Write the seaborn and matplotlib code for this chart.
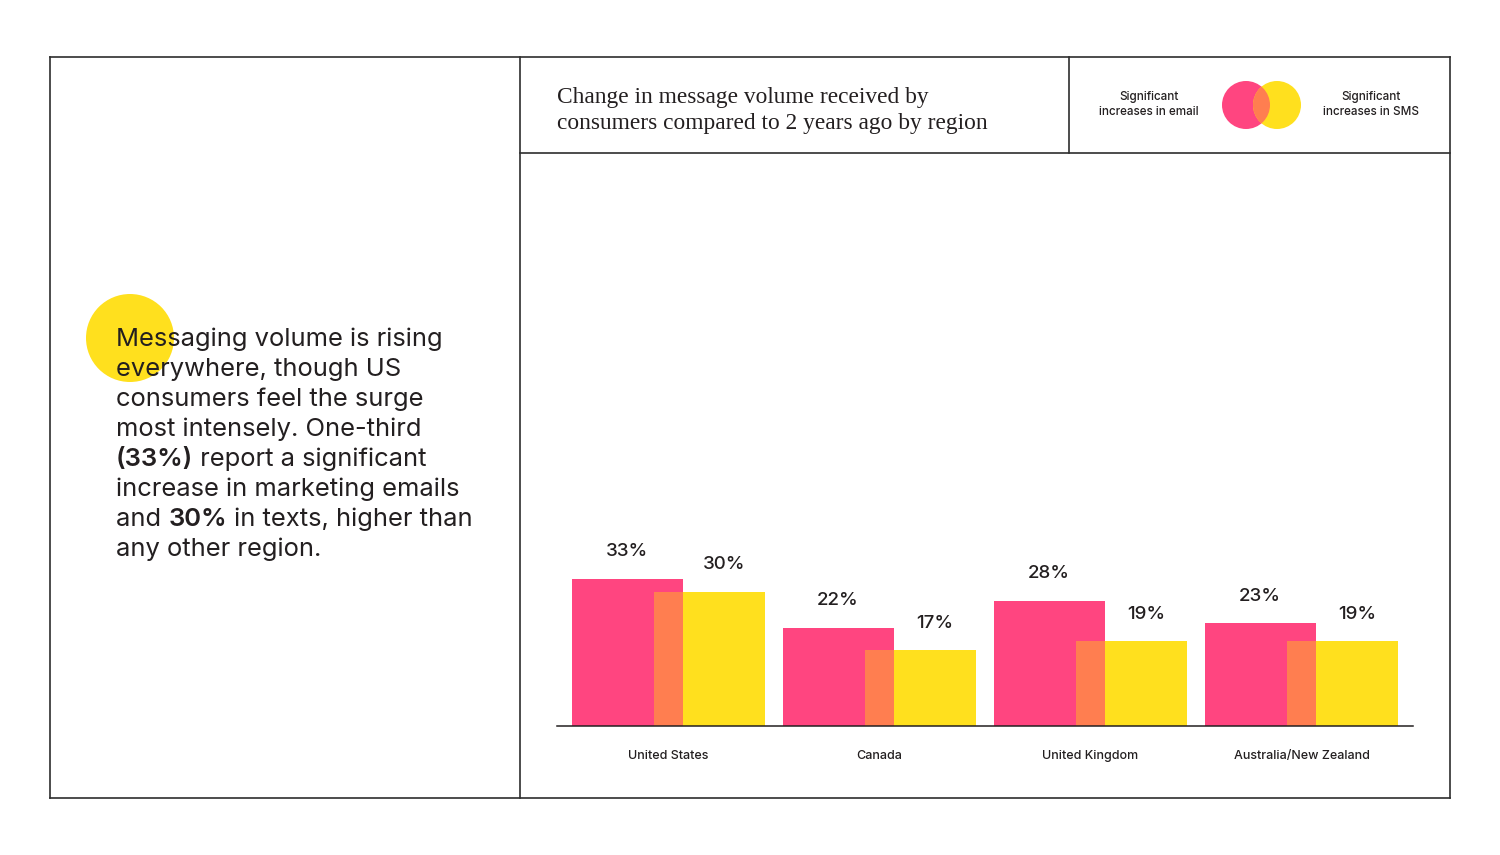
import pandas as pd
import seaborn as sns
import matplotlib.pyplot as plt
from matplotlib.patches import Circle

REGIOES = ['United States', 'Canada', 'United Kingdom', 'Australia/New Zealand']
EMAIL = [33, 22, 28, 23]   # Significant increases in email (%)
SMS = [30, 17, 19, 19]     # Significant increases in SMS (%)

TITULO = ['Change in message volume received by',
          'consumers compared to 2 years ago by region']
LEGENDA_EMAIL = 'Significant\nincreases in email'
LEGENDA_SMS = 'Significant\nincreases in SMS'

TEXTO_LADO = [
    [('Messaging volume is rising', False)],
    [('everywhere, though US', False)],
    [('consumers feel the surge', False)],
    [('most intensely. One-third', False)],
    [('(33%)', True), (' report a significant', False)],
    [('increase in marketing emails', False)],
    [('and ', False), ('30%', True), (' in texts, higher than', False)],
    [('any other region.', False)],
]

ROSA = '#FF4580'
AMARELO = '#FFE01E'
LARANJA = '#FF7E50'
TINTA = '#231F20'
MOLDURA = '#2E2E2E'

LARGURA = 0.526      # largura de cada barra (em unidades de categoria)
DESLOC = 0.196       # deslocamento de cada serie a partir do centro
LARG_SOBRE = LARGURA - 2 * DESLOC

sns.set_theme(style="white")
plt.rcParams['font.family'] = ['Inter', 'DejaVu Sans']

df = pd.DataFrame({'regiao': REGIOES, 'email': EMAIL, 'sms': SMS})
df['sobre'] = df[['email', 'sms']].min(axis=1)

fig = plt.figure(figsize=(15, 8.55), dpi=100)

# camada de fundo em pixels (moldura, titulo, legenda, texto)
bg = fig.add_axes([0, 0, 1, 1], zorder=0)
bg.set_xlim(0, 1500)
bg.set_ylim(855, 0)
bg.axis('off')

lw = 1.2
for (x0, y0, x1, y1) in [(50, 57, 1450, 57), (50, 798, 1450, 798),
                         (50, 57, 50, 798), (1450, 57, 1450, 798),
                         (520, 57, 520, 798), (520, 153, 1450, 153),
                         (1069, 57, 1069, 153)]:
    bg.plot([x0, x1], [y0, y1], color=MOLDURA, lw=lw, solid_capstyle='projecting')

for i, linha in enumerate(TITULO):
    bg.text(557, 97 + i * 27, linha, fontsize=16.8, color=TINTA, va='center',
            family=['Liberation Serif', 'DejaVu Serif'])

bg.text(1149, 104.5, LEGENDA_EMAIL, fontsize=8.4, color=TINTA, ha='center', va='center',
        linespacing=1.3, fontweight='medium')
bg.text(1371, 104.5, LEGENDA_SMS, fontsize=8.4, color=TINTA, ha='center', va='center',
        linespacing=1.3, fontweight='medium')

c_rosa = Circle((1246, 105), 24, color=ROSA, lw=0)
c_amar = Circle((1277, 105), 24, color=AMARELO, lw=0)
bg.add_patch(c_rosa)
bg.add_patch(c_amar)
c_sobre = Circle((1277, 105), 24, color=LARANJA, lw=0)
bg.add_patch(c_sobre)
c_sobre.set_clip_path(c_rosa)

# circulo amarelo atras do texto
bg.add_patch(Circle((130, 338), 44, color=AMARELO, lw=0, zorder=1))

y_base = 339
for i, linha in enumerate(TEXTO_LADO):
    anterior = None
    for trecho, negrito in linha:
        peso = 'semibold' if negrito else 'normal'
        if anterior is None:
            anterior = bg.text(116, y_base + i * 30, trecho, fontsize=18.4, color=TINTA,
                               va='center', ha='left', fontweight=peso, zorder=2)
        else:
            anterior = bg.annotate(trecho, xy=(1, 0), xycoords=anterior, va='bottom',
                                   ha='left', fontsize=18.4, color=TINTA,
                                   fontweight=peso, zorder=2)

# grafico de barras
ax = fig.add_axes([557 / 1500, 1 - 726 / 855, (1413 - 557) / 1500, (726 - 170) / 855],
                  zorder=1)
ax.patch.set_alpha(0)


def desenhar_serie(coluna, cor, largura, desloc):
    n_antes = len(ax.patches)
    sns.barplot(data=df, x='regiao', y=coluna, color=cor, width=largura,
                errorbar=None, saturation=1, linewidth=0, ax=ax)
    barras = ax.patches[n_antes:]
    for b in barras:
        b.set_x(b.get_x() + desloc)
    return barras


barras_email = desenhar_serie('email', ROSA, LARGURA, -DESLOC)
barras_sms = desenhar_serie('sms', AMARELO, LARGURA, DESLOC)
desenhar_serie('sobre', LARANJA, LARG_SOBRE, 0)

for b, v in zip(barras_email, EMAIL):
    ax.annotate(f'{v}%', xy=(b.get_x() + b.get_width() / 2, b.get_height()),
                xytext=(0, 27), textcoords='offset pixels', ha='center', va='center',
                fontsize=13.5, color=TINTA, fontweight='medium')
for b, v in zip(barras_sms, SMS):
    ax.annotate(f'{v}%', xy=(b.get_x() + b.get_width() / 2 + LARG_SOBRE / 2, b.get_height()),
                xytext=(0, 27), textcoords='offset pixels', ha='center', va='center',
                fontsize=13.5, color=TINTA, fontweight='medium')

ax.set_xlim(-0.528, 3.528)
ax.set_ylim(0, 124.4)
ax.set_xlabel('')
ax.set_ylabel('')
ax.set_yticks([])
sns.despine(ax=ax, left=True)
ax.spines['bottom'].set_color(TINTA)
ax.spines['bottom'].set_linewidth(1.1)
ax.tick_params(axis='x', length=0, pad=17, labelsize=9, labelcolor=TINTA)
for t in ax.get_xticklabels():
    t.set_fontweight('medium')

fig.savefig('out.png', dpi=100, facecolor='white')
print("Salvo: out.png")
